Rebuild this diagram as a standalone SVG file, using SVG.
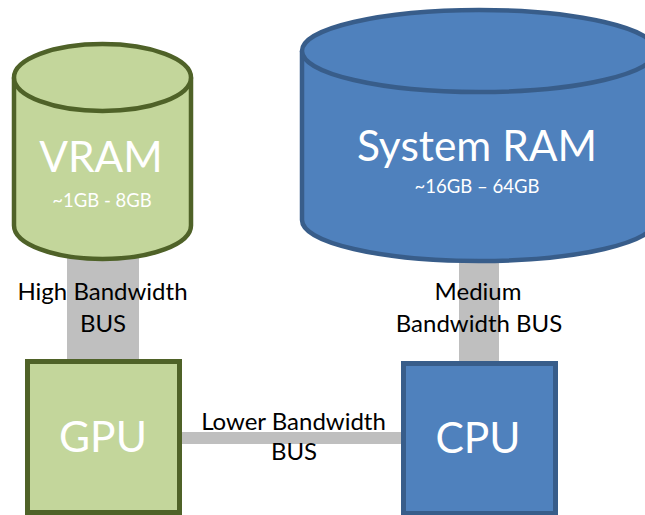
<svg xmlns="http://www.w3.org/2000/svg" width="645" height="515" viewBox="0 0 645 515">
<style>
.bar{fill:#bfbfbf}
.green{fill:#c3d69b;stroke:#4f6228;stroke-width:4.5}
.blue{fill:#4f81bd;stroke:#385d8a;stroke-width:4.5}
.big{font-family:Lato,"Open Sans",sans-serif;font-size:42.5px;fill:#ffffff;text-anchor:middle}
.sub{font-family:Lato,"Open Sans",sans-serif;font-size:18.5px;fill:#ffffff;text-anchor:middle}
.lbl{font-family:Lato,"Open Sans",sans-serif;font-size:24px;fill:#000000;text-anchor:middle}
</style>
<rect width="645" height="515" fill="#ffffff"/>
<g id="connectors">
<rect class="bar" x="67" y="240" width="72" height="122"/>
<rect class="bar" x="459" y="240" width="40" height="124"/>
<rect class="bar" x="180" y="432" width="224" height="12"/>
<text class="lbl" x="102.5" y="300">High Bandwidth</text>
<text class="lbl" x="103" y="332">BUS</text>
<text class="lbl" x="478" y="300">Medium</text>
<text class="lbl" x="479" y="332">Bandwidth BUS</text>
<text class="lbl" x="293.5" y="430">Lower Bandwidth</text>
<text class="lbl" x="294" y="460">BUS</text>
</g>
<g id="vram">
<path class="green" d="M14,77.5 L14,225.5 A88.5,33.5 0 0 0 191,225.5 L191,77.5"/>
<ellipse class="green" cx="102.5" cy="77.5" rx="88.5" ry="33.5"/>
<text class="big" x="101" y="172">VRAM</text>
<text class="sub" x="102" y="207">~1GB - 8GB</text>
</g>
<g id="sysram">
<path class="blue" d="M302,51 L302,220 A177,41 0 0 0 656,220 L656,51"/>
<ellipse class="blue" cx="479" cy="51" rx="177" ry="41"/>
<text class="big" x="477" y="161">System RAM</text>
<text class="sub" x="477" y="193">~16GB – 64GB</text>
</g>
<g id="gpu">
<rect class="green" x="27.5" y="361.5" width="152" height="151" style="stroke-width:5"/>
<text class="big" x="103" y="452">GPU</text>
</g>
<g id="cpu">
<rect class="blue" x="403.5" y="363.5" width="152" height="150" style="stroke-width:5"/>
<text class="big" x="478" y="453">CPU</text>
</g>
</svg>
